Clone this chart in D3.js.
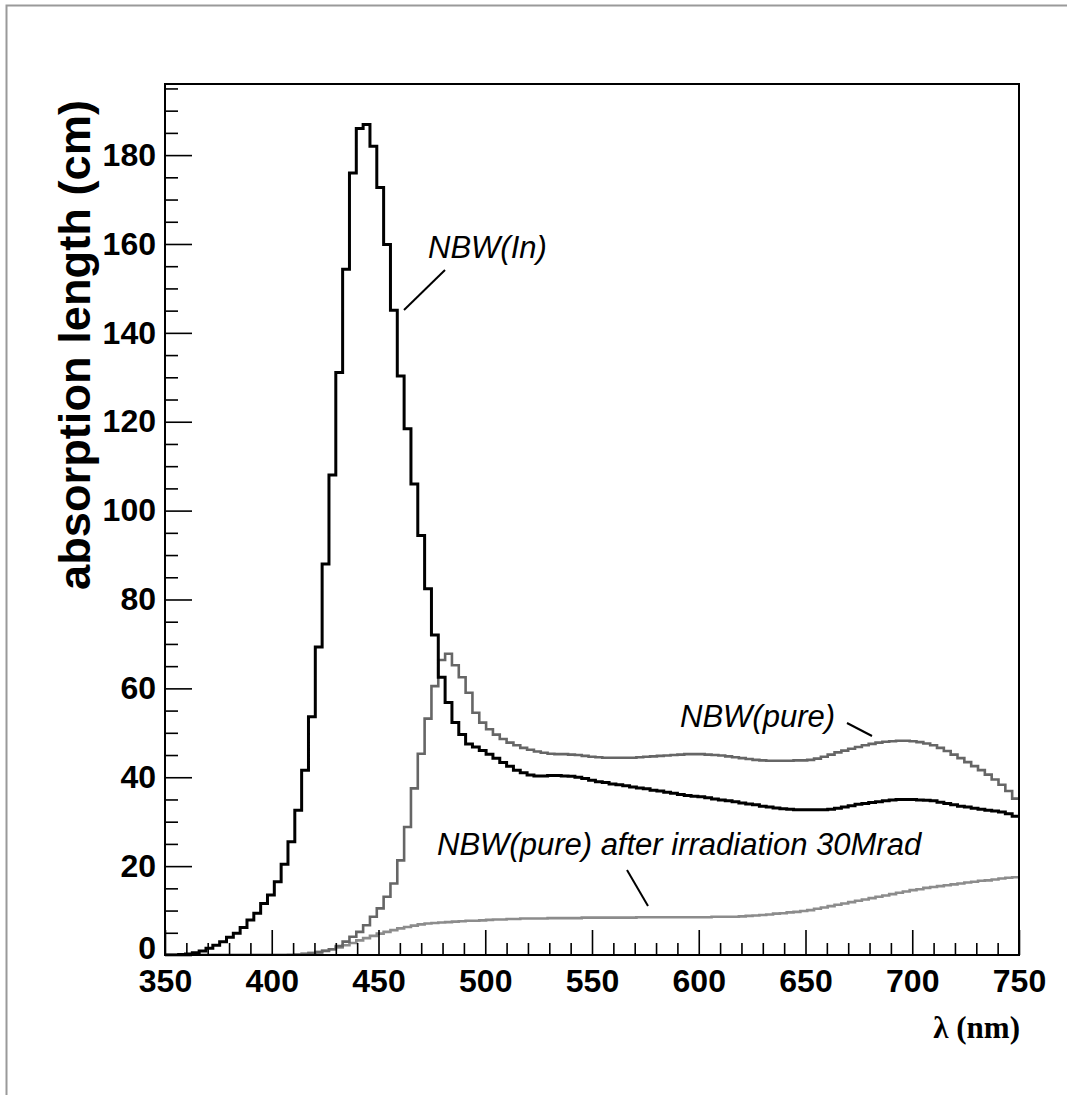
<!DOCTYPE html>
<html>
<head>
<meta charset="utf-8">
<script src="https://cdn.jsdelivr.net/npm/d3@7"></script>
<style>
  html, body { margin: 0; padding: 0; background: #fff; }
  svg { display: block; }
  .tick text { font-family: "Liberation Sans", Arial, sans-serif; font-weight: bold; font-size: 32px; fill: #000; }
  .axis line { stroke: #000; stroke-width: 1.6px; }
  .axis path { display: none; }
  .note { font-family: "Liberation Sans", Arial, sans-serif; font-style: italic; font-size: 31px; fill: #000; }
</style>
</head>
<body>
<div id="chart"></div>
<script>
// Absorption length vs wavelength, three ROOT-style step histograms (3.2 nm bins from 350 to 750 nm).
const BIN_START = 350;
const BIN_WIDTH = 3.2;

// NBW(In)
const nbwIn = [
  0, 0, 0.1, 0.2, 0.5, 0.9, 1.5, 2.2, 3.0, 4.0,
  4.9, 6.2, 7.9, 9.4, 11.6, 13.5, 16.5, 20.4, 25.5, 32.6,
  41.6, 53.6, 69.3, 88.0, 108.0, 131.1, 154.3, 176.0, 186.0, 186.9,
  182.0, 172.7, 159.9, 145.1, 130.3, 118.4, 106.0, 94.4, 82.4, 72.0,
  62.5, 56.8, 52.3, 49.6, 47.5, 46.8, 46.0, 45.2, 44.3, 43.3,
  42.5, 41.6, 41.0, 40.5, 40.3, 40.3, 40.4, 40.4, 40.3, 40.2,
  40.0, 39.7, 39.3, 39.0, 38.8, 38.5, 38.3, 38.1, 37.8, 37.6,
  37.4, 37.1, 36.9, 36.6, 36.4, 36.1, 35.9, 35.7, 35.6, 35.4,
  35.1, 34.9, 34.7, 34.5, 34.2, 34.0, 33.8, 33.5, 33.3, 33.1,
  32.9, 32.8, 32.7, 32.7, 32.7, 32.7, 32.7, 32.8, 33.0, 33.3,
  33.6, 33.9, 34.1, 34.3, 34.5, 34.7, 34.9, 35.0, 35.0, 35.0,
  34.9, 34.8, 34.7, 34.4, 34.1, 33.8, 33.5, 33.3, 33.0, 32.8,
  32.6, 32.4, 32.2, 31.8, 31.2
];

// NBW(pure)
const nbwPure = [
  0, 0, 0, 0, 0, 0, 0, 0, 0, 0,
  0, 0, 0, 0, 0, 0, 0, 0, 0, 0,
  0.1, 0.3, 0.6, 0.9, 1.3, 2.0, 3.0, 4.1, 5.2, 6.7,
  8.6, 10.5, 13.1, 16.1, 21.3, 28.8, 37.5, 45.3, 53.2, 60.5,
  66.4, 67.8, 65.2, 62.5, 59.0, 54.5, 52.3, 50.8, 49.6, 48.6,
  47.8, 47.2, 46.6, 46.2, 45.8, 45.5, 45.3, 45.2, 45.2, 45.1,
  45.0, 44.8, 44.6, 44.5, 44.4, 44.4, 44.4, 44.4, 44.4, 44.5,
  44.6, 44.7, 44.8, 44.9, 45.0, 45.1, 45.2, 45.2, 45.2, 45.1,
  45.0, 44.9, 44.7, 44.5, 44.3, 44.1, 43.9, 43.8, 43.7, 43.7,
  43.7, 43.7, 43.8, 43.8, 43.9, 44.2, 44.6, 45.1, 45.6, 46.0,
  46.4, 46.8, 47.2, 47.5, 47.8, 48.0, 48.1, 48.2, 48.2, 48.1,
  47.9, 47.6, 47.2, 46.6, 45.9, 45.1, 44.3, 43.4, 42.5, 41.6,
  40.6, 39.5, 38.3, 36.9, 35.2
];

// NBW(pure) after irradiation 30Mrad
const nbwIrr = [
  0, 0, 0, 0, 0, 0, 0, 0, 0, 0,
  0, 0, 0, 0, 0, 0, 0, 0, 0.05, 0.15,
  0.3, 0.5, 0.7, 1.0, 1.3, 1.7, 2.2, 2.7, 3.3, 3.8,
  4.3, 4.8, 5.2, 5.6, 6.0, 6.3, 6.6, 6.9, 7.1, 7.2,
  7.3, 7.4, 7.5, 7.6, 7.7, 7.7, 7.8, 7.9, 8.0, 8.0,
  8.1, 8.1, 8.2, 8.2, 8.2, 8.2, 8.3, 8.3, 8.3, 8.3,
  8.3, 8.4, 8.4, 8.4, 8.4, 8.4, 8.4, 8.4, 8.4, 8.5,
  8.5, 8.5, 8.5, 8.5, 8.5, 8.5, 8.5, 8.5, 8.5, 8.5,
  8.6, 8.6, 8.6, 8.6, 8.7, 8.8, 8.9, 9.0, 9.1, 9.3,
  9.4, 9.6, 9.7, 9.9, 10.1, 10.4, 10.7, 11.0, 11.3, 11.6,
  11.9, 12.2, 12.5, 12.8, 13.1, 13.4, 13.7, 14.0, 14.3, 14.6,
  14.8, 15.1, 15.3, 15.5, 15.7, 15.9, 16.1, 16.3, 16.5, 16.7,
  16.8, 17.0, 17.2, 17.4, 17.5
];

const xMajor = [350, 400, 450, 500, 550, 600, 650, 700, 750];
const yMajor = [0, 20, 40, 60, 80, 100, 120, 140, 160, 180];
const X_DOMAIN = [350, 750];
const Y_DOMAIN = [0, 196];
const X_MINOR_STEP = 10;
const Y_MINOR_STEP = 5;

const W = 1067, H = 1095;
const svg = d3.select("#chart").append("svg").attr("width", W).attr("height", H);

// canvas border
svg.append("rect").attr("x", 6.5).attr("y", 5.5).attr("width", W + 10).attr("height", H + 10)
  .attr("fill", "none").attr("stroke", "#9a9a9a").attr("stroke-width", 2);

const x = d3.scaleLinear(X_DOMAIN, [165, 1019]);
const y = d3.scaleLinear(Y_DOMAIN, [955, 84]);

const xMinor = d3.range(X_DOMAIN[0], X_DOMAIN[1] + 0.1, X_MINOR_STEP).filter((v) => v % 50 !== 0);
const yMinor = d3.range(0, Y_DOMAIN[1], Y_MINOR_STEP).filter((v) => v % 20 !== 0);

// histograms (step outlines)
function stepPoints(vals) {
  const pts = vals.map((v, i) => [BIN_START + i * BIN_WIDTH, v]);
  pts.push([BIN_START + vals.length * BIN_WIDTH, vals[vals.length - 1]]);
  return pts;
}
const step = d3.line().x((d) => x(d[0])).y((d) => y(d[1])).curve(d3.curveStepAfter);

svg.append("defs").append("clipPath").attr("id", "plot")
  .append("rect").attr("x", 165).attr("y", 84).attr("width", 854).attr("height", 871);

const series = [
  { vals: nbwIrr, color: "#8c8c8c", w: 2.6 },
  { vals: nbwPure, color: "#666666", w: 2.6 },
  { vals: nbwIn, color: "#000000", w: 3 },
];
const gPlot = svg.append("g").attr("clip-path", "url(#plot)");
series.forEach((s) => {
  gPlot.append("path").datum(stepPoints(s.vals))
    .attr("d", step).attr("fill", "none")
    .attr("stroke", s.color).attr("stroke-width", s.w).attr("stroke-linejoin", "miter");
});

// axes: ticks inward
svg.append("g").attr("class", "axis").attr("transform", "translate(0,955)")
  .call(d3.axisBottom(x).tickValues(xMajor).tickSize(-25).tickPadding(14).tickFormat(d3.format("d")));
svg.append("g").attr("class", "axis").attr("transform", "translate(0,955)")
  .call(d3.axisBottom(x).tickValues(xMinor).tickSize(-12).tickFormat(""));
const yAxis = svg.append("g").attr("class", "axis").attr("transform", "translate(165,0)")
  .call(d3.axisLeft(y).tickValues(yMajor).tickSize(-27).tickPadding(9).tickFormat(d3.format("d")));
svg.append("g").attr("class", "axis").attr("transform", "translate(165,0)")
  .call(d3.axisLeft(y).tickValues(yMinor).tickSize(-13).tickFormat(""));
// the "0" label sits just above the x labels, as in the original
yAxis.selectAll(".tick").filter((d) => d === 0).select("text").attr("y", -7).attr("font-size", 28);

// frame
svg.append("rect").attr("x", 165).attr("y", 84).attr("width", 854).attr("height", 871)
  .attr("fill", "none").attr("stroke", "#000").attr("stroke-width", 2);

// axis titles
svg.append("text")
  .attr("transform", "translate(90,590) rotate(-90)")
  .attr("font-family", "Liberation Sans, Arial, sans-serif").attr("font-weight", "bold")
  .attr("font-size", 44).attr("text-anchor", "start")
  .attr("textLength", 490).attr("lengthAdjust", "spacingAndGlyphs")
  .text("absorption length (cm)");
svg.append("text")
  .attr("x", 1020).attr("y", 1038).attr("text-anchor", "end")
  .attr("font-family", "Liberation Serif, Times New Roman, serif").attr("font-weight", "bold")
  .attr("font-size", 31)
  .text("λ (nm)");

// annotations
const notes = [
  { text: "NBW(In)", x: 428, y: 258, lx1: 445, ly1: 270, lx2: 404, ly2: 310 },
  { text: "NBW(pure)", x: 680, y: 727, lx1: 847, ly1: 723, lx2: 872, ly2: 736 },
  { text: "NBW(pure) after irradiation 30Mrad", x: 437, y: 855, lx1: 627, ly1: 870, lx2: 648, ly2: 906 },
];
notes.forEach((n) => {
  svg.append("text").attr("class", "note").attr("x", n.x).attr("y", n.y).text(n.text);
  svg.append("line").attr("x1", n.lx1).attr("y1", n.ly1).attr("x2", n.lx2).attr("y2", n.ly2)
    .attr("stroke", "#000").attr("stroke-width", 2);
});
</script>
</body>
</html>
